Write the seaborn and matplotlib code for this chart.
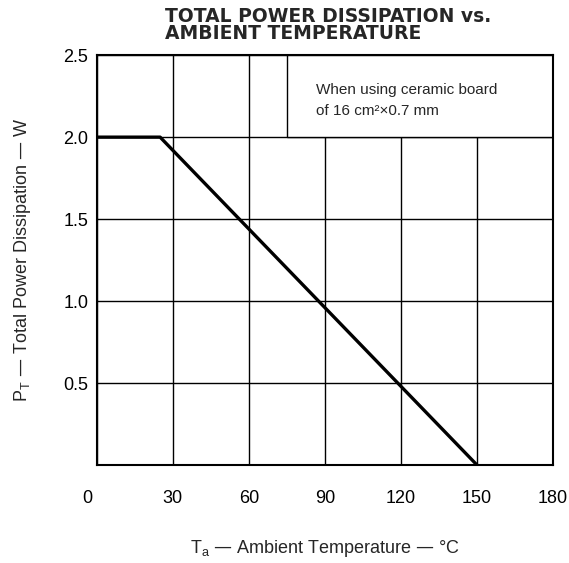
import matplotlib
matplotlib.use("Agg")
import matplotlib.pyplot as plt
import matplotlib.transforms as mtransforms
from matplotlib.patches import Rectangle
import seaborn as sns
import pandas as pd

# Data
ambient_temp = [0, 25, 150]
power_dissipation = [2.0, 2.0, 0.0]
x_ticks = [0, 30, 60, 90, 120, 150, 180]
y_ticks = [0.5, 1.0, 1.5, 2.0, 2.5]
y_tick_labels = ["0.5", "1.0", "1.5", "2.0", "2.5"]

sns.set_style("white")
plt.rcParams['font.family'] = ['Liberation Sans', 'DejaVu Sans']
plt.rcParams['mathtext.default'] = 'regular'

fig = plt.figure(figsize=(5.69, 5.63), dpi=100)
ax = fig.add_axes([0.170, 0.174, 0.802, 0.728])

df = pd.DataFrame({"Ta": ambient_temp, "PT": power_dissipation})
sns.lineplot(data=df, x="Ta", y="PT", ax=ax, color="black", linewidth=2.4, zorder=5)

ax.set_xlim(0, 180)
ax.set_ylim(0, 2.5)
ax.set_xticks(x_ticks)
ax.set_xticklabels([str(t) for t in x_ticks])
ax.set_yticks(y_ticks)
ax.set_yticklabels(y_tick_labels)
ax.tick_params(axis='both', length=0, labelsize=13, colors='black')
ax.tick_params(axis='x', pad=18)
ax.tick_params(axis='y', pad=6)

# shift "0" label left
lbl0 = ax.get_xticklabels()[0]
lbl0.set_transform(lbl0.get_transform() + mtransforms.ScaledTranslation(-9/100, 0, fig.dpi_scale_trans))

ax.grid(True, color='black', linewidth=1.0)
ax.set_axisbelow(True)

for s in ax.spines.values():
    s.set_color('black')
    s.set_linewidth(1.5)
    s.set_zorder(6)

# annotation box
rect = Rectangle((75, 2.0), 105, 0.5, facecolor='white', edgecolor='black', linewidth=1.0, zorder=3)
ax.add_patch(rect)
ax.text(86.5, 2.225, "When using ceramic board\nof 16 cm²×0.7 mm", fontsize=11, va='center', ha='left',
        linespacing=1.6, zorder=4)

ax.set_xlabel("T$_a$ — Ambient Temperature — °C", fontsize=13, labelpad=22)
ax.set_ylabel("P$_T$ — Total Power Dissipation — W", fontsize=13, labelpad=22)

fig.text(0.290, 0.9555, "TOTAL POWER DISSIPATION vs.\nAMBIENT TEMPERATURE", ha='left', va='center',
         fontsize=13.5, fontweight='bold', linespacing=0.85, family='DejaVu Sans')

fig.savefig("out.png", dpi=100)
